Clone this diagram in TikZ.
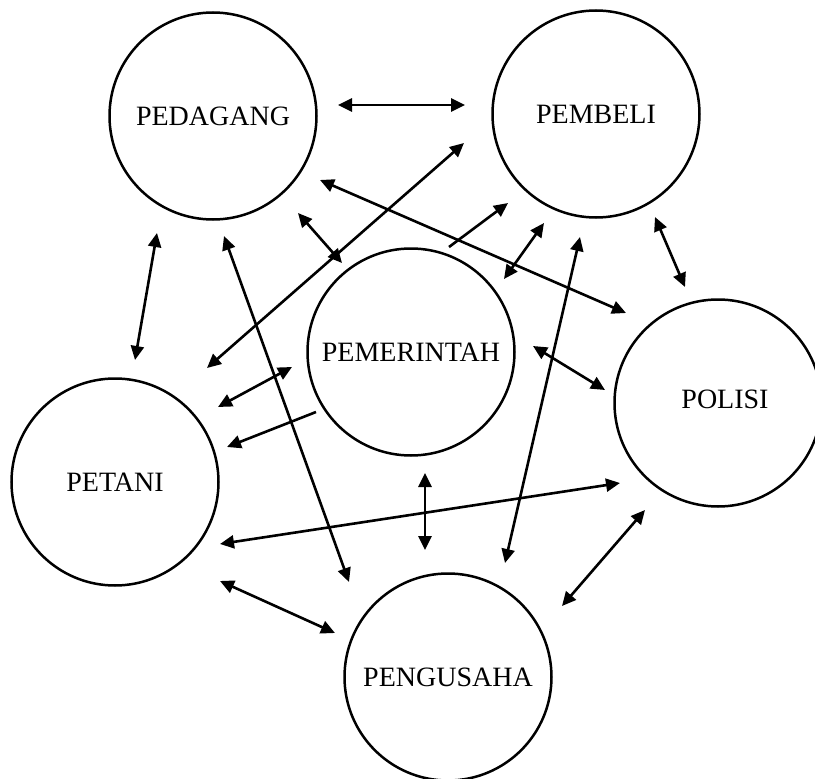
\documentclass[tikz,border=0pt]{standalone}
\usepackage{fontspec}
\setmainfont{Liberation Serif}
\usetikzlibrary{arrows.meta,calc}
\begin{document}
\begin{tikzpicture}[x=1pt,y=-1pt,
  ent/.style={circle,draw,line width=2.5pt,minimum size=207pt,inner sep=0pt,font=\fontsize{28}{30}\selectfont},
  txt/.style={font=\fontsize{28}{30}\selectfont,inner sep=0pt},
  link/.style={line width=2.6pt,{Triangle[length=14pt,width=13pt]}-{Triangle[length=14pt,width=13pt]}},
  one/.style={line width=2.6pt,-{Triangle[length=14pt,width=13pt]}}]
\useasboundingbox (0,0) rectangle (815,779);
\fill[white] (0,0) rectangle (815,779);
% entities
\node[ent] (ped) at (213,116) {PEDAGANG};
\node[ent] (pem) at (596,114) {PEMBELI};
\node[ent] (pmr) at (411,352) {PEMERINTAH};
\node[ent] (pol) at (718,403) {};
\node[txt] (poltxt) at ($(pol)+(7,-4)$) {POLISI};
\node[ent] (pet) at (115,482) {PETANI};
\node[ent] (pgs) at (448,677) {PENGUSAHA};
% connector ends
\coordinate (e1a) at ($(ped)+(125,-11)$);
\coordinate (e1b) at ($(pem)+(-131,-9)$);
\coordinate (e2a) at ($(pet)+(92,-114)$);
\coordinate (e2b) at ($(pem)+(-132,29)$);
\coordinate (e3a) at ($(ped)+(107,64)$);
\coordinate (e3b) at ($(pol)+(-92,-90)$);
\coordinate (e4a) at ($(ped)+(85,97)$);
\coordinate (e4b) at ($(pmr)+(-69,-89)$);
\coordinate (e5a) at ($(ped)+(-56,117)$);
\coordinate (e5b) at ($(pet)+(20,-122)$);
\coordinate (e6a) at ($(ped)+(11,120)$);
\coordinate (e6b) at ($(pgs)+(-99,-95)$);
\coordinate (e7a) at ($(pmr)+(38,-105)$);
\coordinate (e7b) at ($(pem)+(-88,89)$);
\coordinate (e8a) at ($(pmr)+(93,-73)$);
\coordinate (e8b) at ($(pem)+(-52,109)$);
\coordinate (e9a) at ($(pem)+(-16,123)$);
\coordinate (e9b) at ($(pgs)+(57,-114)$);
\coordinate (e10a) at ($(pem)+(59,103)$);
\coordinate (e10b) at ($(pol)+(-33,-116)$);
\coordinate (e11a) at ($(pmr)+(122,-6)$);
\coordinate (e11b) at ($(pol)+(-113,-13)$);
\coordinate (e12a) at ($(pet)+(103,-75)$);
\coordinate (e12b) at ($(pmr)+(-119,15)$);
\coordinate (e13a) at ($(pmr)+(-95,60)$);
\coordinate (e13b) at ($(pet)+(112,-35)$);
\coordinate (e14a) at ($(pet)+(105,62)$);
\coordinate (e14b) at ($(pol)+(-98,80)$);
\coordinate (e15a) at ($(pmr)+(14,121)$);
\coordinate (e15b) at ($(pgs)+(-23,-127)$);
\coordinate (e16a) at ($(pet)+(105,99)$);
\coordinate (e16b) at ($(pgs)+(-113,-44)$);
\coordinate (e17a) at ($(pgs)+(114,-71)$);
\coordinate (e17b) at ($(pol)+(-73,107)$);
% connectors
\draw[link] (e1a) -- (e1b);
\draw[link] (e2a) -- (e2b);
\draw[link] (e3a) -- (e3b);
\draw[link] (e4a) -- (e4b);
\draw[link] (e5a) -- (e5b);
\draw[link] (e6a) -- (e6b);
\draw[one]  (e7a) -- (e7b);
\draw[link] (e8a) -- (e8b);
\draw[link] (e9a) -- (e9b);
\draw[link] (e10a) -- (e10b);
\draw[link] (e11a) -- (e11b);
\draw[link] (e12a) -- (e12b);
\draw[one]  (e13a) -- (e13b);
\draw[link] (e14a) -- (e14b);
\draw[link] (e15a) -- (e15b);
\draw[link] (e16a) -- (e16b);
\draw[link] (e17a) -- (e17b);
\end{tikzpicture}
\end{document}
